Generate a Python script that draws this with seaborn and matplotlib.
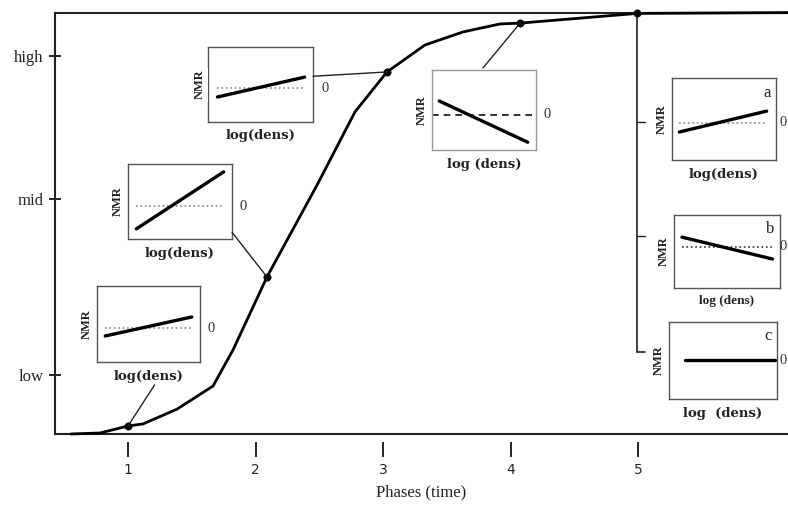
import matplotlib
matplotlib.use("Agg")
import matplotlib.pyplot as plt
from matplotlib.patches import ConnectionPatch
import numpy as np
import pandas as pd
import seaborn as sns

# ---- main growth curve (phase vs. population level) ----
phase = [0.553, 0.78, 1.0, 1.118, 1.384, 1.667, 1.824, 2.09, 2.482, 2.78,
         3.031, 3.329, 3.627, 3.918, 4.075, 4.992, 6.18]
level = [0.0, 0.24, 1.9, 2.4, 5.9, 11.4, 20.0, 37.3, 59.1, 76.5,
         86.0, 92.4, 95.5, 97.4, 97.6, 99.9, 100.1]
marked = [2, 7, 10, 14, 15]          # indices of the highlighted points

phase_ticks = [1, 2, 3, 4, 5]
level_ticks = [14.0, 55.8, 89.8]
level_labels = ["low", "mid", "high"]

# ---- NMR vs log(density) insets: start / end of the fitted line ----
inset_names = ["p1", "p2", "p3", "p4", "a", "b", "c"]
nmr_start = [-0.21, -0.61, -0.24, 0.35, -0.22, 0.27, 0.0]
nmr_end = [0.29, 0.91, 0.29, -0.68, 0.29, -0.33, 0.0]
inset_tags = ["", "", "", "", "a", "b", "c"]
xlabels = ["log(dens)", "log(dens)", "log(dens)", "log (dens)",
           "log(dens)", "log (dens)", "log  (dens)"]

W, H = 788, 505
fig = plt.figure(figsize=(W / 100, H / 100), dpi=100)
sns.set_style("white")
plt.rcParams["font.family"] = ["DejaVu Sans"]

serif = "Liberation Serif"
slab = "DejaVu Serif"


def px_axes(x0, y0, x1, y1):
    return fig.add_axes([x0 / W, 1 - y1 / H, (x1 - x0) / W, (y1 - y0) / H])


ax = px_axes(55, 13, 788, 434)
curve = pd.DataFrame({"phase": phase, "level": level})
sns.lineplot(data=curve, x="phase", y="level", ax=ax, color="black",
             lw=2.0, sort=False, zorder=3, clip_on=False)
pts = curve.iloc[marked]
sns.scatterplot(data=pts, x="phase", y="level", ax=ax, color="black",
                s=28, edgecolor="black", zorder=4, clip_on=False, legend=False)

ax.set_xlim(0.4275, 6.176)
ax.set_ylim(0, 100)
ax.set_xticks(phase_ticks)
ax.set_xticklabels([str(p) for p in phase_ticks], fontsize=11, color="#222")
ax.set_yticks(level_ticks)
ax.set_yticklabels(level_labels, fontsize=12, family=serif, color="#222")
ax.set_xlabel("Phases (time)", fontsize=12, family=serif, color="#222",
              labelpad=5)
ax.set_ylabel("")
ax.tick_params(axis="y", direction="inout", length=9, width=1.4,
               pad=4, left=True)
ax.tick_params(axis="x", direction="out", length=11, width=1.4,
               pad=4, bottom=True)
for side in ["left", "top"]:
    ax.spines[side].set_linewidth(1.5)
    ax.spines[side].set_color("#222")
ax.spines["right"].set_visible(False)
ax.spines["bottom"].set_position(("outward", 6))
ax.spines["bottom"].set_visible(False)
ax.axhline(0, color="#222", lw=1.5, clip_on=False, zorder=2)

# bracket from the last point down to the three outcome panels
t5, y5 = phase[marked[-1]], level[marked[-1]]
ax.plot([t5, t5], [y5, 19.5], color="#222", lw=1.2, zorder=2)
ax.plot([t5, t5 + 0.065], [19.5, 19.5], color="#222", lw=1.2)
for yt in [74.1, 47.0]:
    ax.plot([t5, t5 + 0.065], [yt, yt], color="#222", lw=1.0)

# inset boxes in pixel coordinates (x0, y0, x1, y1) and zero-line height
boxes = {"p1": (97, 286, 200, 362, 328), "p2": (128, 164, 232, 239, 206),
         "p3": (208, 47, 313, 122, 88), "p4": (432, 70, 536, 150, 115),
         "a": (672, 78, 776, 160, 123), "b": (674, 215, 780, 288, 247),
         "c": (669, 322, 777, 399, 360)}
line_x = {"p1": (0.08, 0.92), "p2": (0.08, 0.92), "p3": (0.09, 0.92),
          "p4": (0.07, 0.92), "a": (0.07, 0.91), "b": (0.075, 0.93),
          "c": (0.15, 0.98)}
zero_style = {"p1": ("#888", ":"), "p2": ("#888", ":"), "p3": ("#888", ":"),
              "p4": ("#111", (0, (4, 3))), "a": ("#888", ":"),
              "b": ("#333", ":"), "c": None}
font_of = {"p1": slab, "p2": slab, "p3": slab, "p4": slab, "a": slab,
           "b": serif, "c": slab}

insets = {}
for name, s, e, tag, xl in zip(inset_names, nmr_start, nmr_end,
                               inset_tags, xlabels):
    x0, y0, x1, y1, yz = boxes[name]
    half = (y1 - y0) / 2
    ia = px_axes(x0, y0, x1, y1)
    insets[name] = ia
    ia.set_xlim(0, 1)
    ia.set_ylim(-(y1 - yz) / half, (yz - y0) / half)
    lx0, lx1 = line_x[name]
    zs = zero_style[name]
    if zs is not None:
        zx = (0, 1) if name == "p4" else (lx0, lx1)
        ia.plot(zx, [0, 0], color=zs[0], ls=zs[1], lw=1.2)
    seg = pd.DataFrame({"x": [lx0, lx1], "y": [s, e]})
    sns.lineplot(data=seg, x="x", y="y", ax=ia, color="black", lw=2.4,
                 zorder=3)
    ia.set_xticks([])
    ia.set_yticks([])
    ia.set_xlabel("")
    ia.set_ylabel("")
    edge = "#999" if name == "p4" else "#555"
    for sp in ia.spines.values():
        sp.set_visible(True)
        sp.set_color(edge)
        sp.set_linewidth(1.0)
    ia.text(0.5, -0.1, xl, transform=ia.transAxes, ha="center", va="top",
            fontsize=9.5, family=font_of[name], fontweight="bold",
            color="#222")
    zy = (y1 - yz) / (y1 - y0)
    if x1 > 700:
        # right-hand panels: keep the zero label inside the figure edge
        ia.text((W - 1 - x0) / (x1 - x0), zy, "0", transform=ia.transAxes,
                ha="right", va="center", fontsize=10.5, family=serif,
                color="#333", clip_on=False)
    else:
        ia.text(1.0 + 8 / (x1 - x0), zy, "0", transform=ia.transAxes,
                ha="left", va="center", fontsize=10.5, family=serif,
                color="#333", clip_on=False)
    nmr_x = {"p3": -8 / (x1 - x0)}.get(name, -10 / (x1 - x0))
    box = dict(facecolor="white", edgecolor="none", pad=1.5) \
        if name == "p3" else None
    ia.text(nmr_x, 0.5, "NMR", transform=ia.transAxes, rotation=90,
            ha="center", va="center", fontsize=9, family=serif,
            fontweight="bold", color="#222", bbox=box, zorder=6,
            clip_on=False)
    if tag:
        ia.text(0.95, 0.92, tag, transform=ia.transAxes, ha="right",
                va="top", fontsize=12, family=serif, color="#222")

# leader lines from highlighted points to their panels
anchors = [("p1", 0.56, -0.30), ("p2", 1.0, 0.09), ("p3", 1.0, 0.61),
           ("p4", 0.49, 1.025)]
for (name, fx, fy), idx in zip(anchors, marked[:4]):
    con = ConnectionPatch(xyA=(phase[idx], level[idx]), coordsA=ax.transData,
                          xyB=(fx, fy), coordsB=insets[name].transAxes,
                          color="#222", lw=1.0, zorder=1)
    fig.add_artist(con)

fig.savefig("out.png", dpi=100, facecolor="white")
